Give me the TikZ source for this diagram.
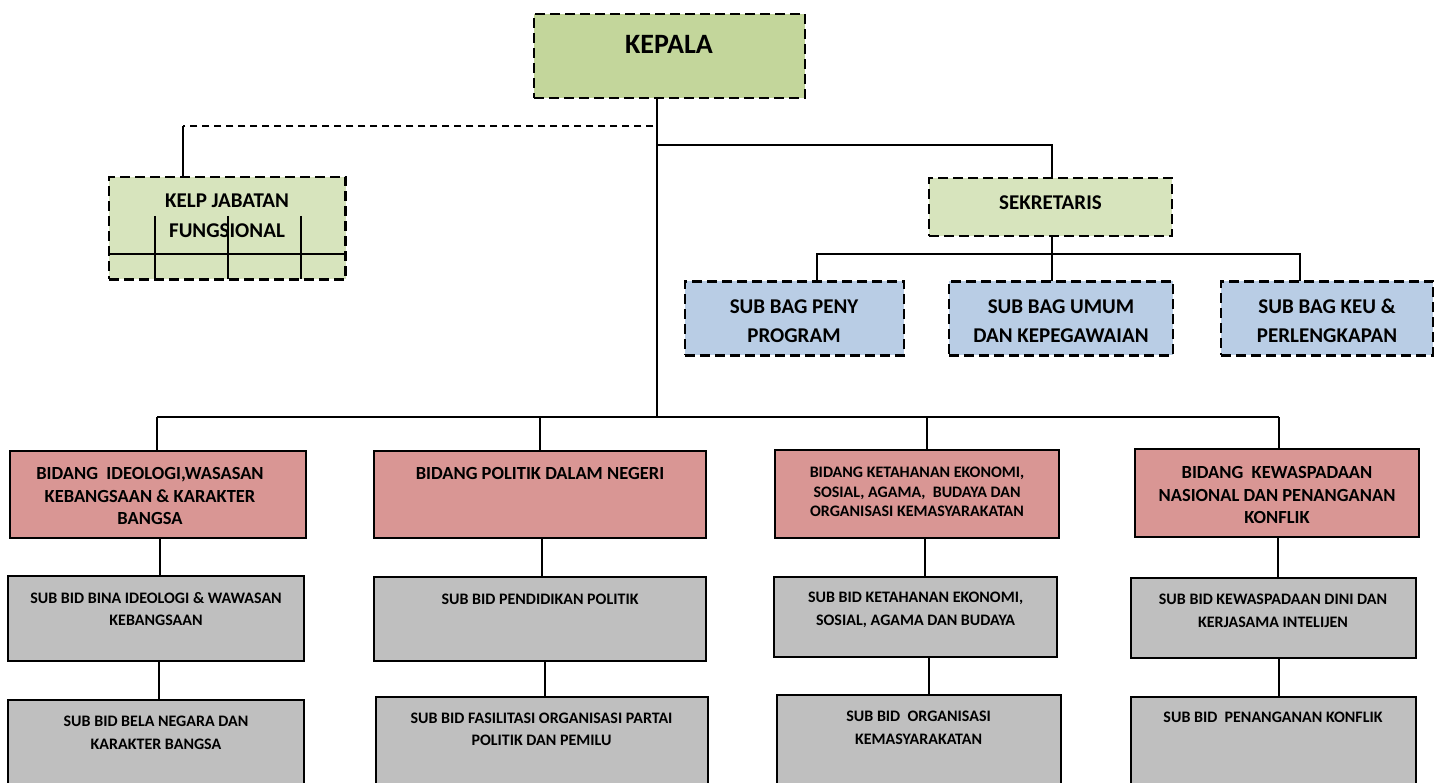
\documentclass[tikz,border=0pt]{standalone}
\usepackage{fontspec}
\setmainfont{Carlito}
\definecolor{kepalaG}{HTML}{C3D69B}
\definecolor{lightG}{HTML}{D7E4BD}
\definecolor{blueB}{HTML}{B9CDE5}
\definecolor{redB}{HTML}{D99694}
\definecolor{greyB}{HTML}{BFBFBF}
\begin{document}
\begin{tikzpicture}[x=1pt,y=-1pt,
  box/.style={draw=black, line width=2.2pt, rectangle, inner sep=0pt, outer sep=0pt},
  dbox/.style={box, dash pattern=on 10pt off 5pt},
  conn/.style={line width=1.8pt},
  dconn/.style={line width=1.8pt, dash pattern=on 7pt off 5pt},
  grid/.style={line width=1.8pt},
  txt/.style={align=center, inner sep=0pt, outer sep=0pt},
  fK/.style={font=\fontsize{28}{34}\selectfont\bfseries},
  fL/.style={font=\fontsize{21}{29.5}\selectfont\bfseries},
  fB/.style={font=\fontsize{18.5}{22.5}\selectfont\bfseries},
  fBs/.style={font=\fontsize{16}{19.5}\selectfont\bfseries},
  fS/.style={font=\fontsize{16}{22.5}\selectfont\bfseries}]
\useasboundingbox (0,0) rectangle (1440,783);
\clip (0,0) rectangle (1440,783);
\fill[white] (0,0) rectangle (1440,783);

% ---------- boxes ----------
\node[dbox, fill=kepalaG, minimum width=271pt, minimum height=84pt] (kepala) at (669.5,56) {};
\node[dbox, fill=lightG, minimum width=236.5pt, minimum height=102.5pt] (kelp) at (227.3,228.2) {};
\node[dbox, fill=lightG, minimum width=243pt, minimum height=58pt] (sek) at (1050.5,207) {};
\node[dbox, fill=blueB, minimum width=219pt, minimum height=74pt] (sb1) at (794.5,318.5) {};
\node[dbox, fill=blueB, minimum width=224pt, minimum height=74pt] (sb2) at (1061,318.5) {};
\node[dbox, fill=blueB, minimum width=212pt, minimum height=74pt] (sb3) at (1327,318.5) {};

\node[box, fill=redB, minimum width=296pt, minimum height=87pt] (b1) at (158,494.5) {};
\node[box, fill=redB, minimum width=332pt, minimum height=87pt] (b2) at (540,494.5) {};
\node[box, fill=redB, minimum width=284pt, minimum height=88pt] (b3) at (917,494) {};
\node[box, fill=redB, minimum width=284pt, minimum height=88pt] (b4) at (1277,493) {};

\node[box, fill=greyB, minimum width=296pt, minimum height=85pt] (s1) at (156,618.5) {};
\node[box, fill=greyB, minimum width=332pt, minimum height=84pt] (s2) at (540,619) {};
\node[box, fill=greyB, minimum width=283pt, minimum height=80pt] (s3) at (915.5,617) {};
\node[box, fill=greyB, minimum width=285pt, minimum height=80pt] (s4) at (1273.5,618) {};

\node[box, fill=greyB, minimum width=296pt, minimum height=100pt] (t1) at (156,750) {};
\node[box, fill=greyB, minimum width=331.5pt, minimum height=103pt] (t2) at (542,748.5) {};
\node[box, fill=greyB, minimum width=284pt, minimum height=105pt] (t3) at (919,747.5) {};
\node[box, fill=greyB, minimum width=285pt, minimum height=103pt] (t4) at (1273.5,748.5) {};

% ---------- texts ----------
\node[txt, fK] (kepalaT) at (669,44) {KEPALA};
\node[txt, fL] (kelpT) at (227,216) {KELP JABATAN\\FUNGSIONAL};
\node[txt, fL] (sekT) at (1050.5,203) {SEKRETARIS};
\node[txt, fL] (sb1T) at (794,321) {SUB BAG PENY\\PROGRAM};
\node[txt, fL] (sb2T) at (1061,321) {SUB BAG UMUM\\DAN KEPEGAWAIAN};
\node[txt, fL] (sb3T) at (1327,321) {SUB BAG KEU \&\\PERLENGKAPAN};

\node[txt, fB] (b1T) at (150,496) {BIDANG\ \ IDEOLOGI,WASASAN\\KEBANGSAAN \& KARAKTER\\BANGSA};
\node[txt, fB] (b2T) at (540,473.5) {BIDANG POLITIK DALAM NEGERI};
\node[txt, fBs] (b3T) at (917,492) {BIDANG KETAHANAN EKONOMI,\\SOSIAL, AGAMA,\ \ BUDAYA DAN\\ORGANISASI KEMASYARAKATAN};
\node[txt, fB] (b4T) at (1277,495) {BIDANG\ \ KEWASPADAAN\\NASIONAL DAN PENANGANAN\\KONFLIK};

\node[txt, fS] (s1T) at (156,609) {SUB BID BINA IDEOLOGI \& WAWASAN\\KEBANGSAAN};
\node[txt, fS] (s2T) at (540,599.3) {SUB BID PENDIDIKAN POLITIK};
\node[txt, fS] (s3T) at (915.6,610) {SUB BID KETAHANAN EKONOMI,\\SOSIAL, AGAMA DAN BUDAYA};
\node[txt, fS] (s4T) at (1273,611) {SUB BID KEWASPADAAN DINI DAN\\KERJASAMA INTELIJEN};

\node[txt, fS] (t1T) at (156,733) {SUB BID BELA NEGARA DAN\\KARAKTER BANGSA};
\node[txt, fS] (t2T) at (541.5,729.5) {SUB BID FASILITASI ORGANISASI PARTAI\\POLITIK DAN PEMILU};
\node[txt, fS] (t3T) at (918.6,728) {SUB BID\ \ ORGANISASI\\KEMASYARAKATAN};
\node[txt, fS] (t4T) at (1273,717) {SUB BID\ \ PENANGANAN KONFLIK};

% ---------- inner grid of KELP box ----------
\coordinate (g1) at (155.3,216);
\coordinate (g2) at (228.3,216);
\coordinate (g3) at (300.7,216);
\coordinate (gh) at (0,254.3);
\draw[grid] (kelp.west |- gh) -- (kelp.east |- gh);
\draw[grid] (g1) -- (g1 |- kelp.south);
\draw[grid] (g2) -- (g2 |- kelp.south);
\draw[grid] (g3) -- (g3 |- kelp.south);

% ---------- connectors ----------
\coordinate (trunkTop) at (657.3,98);
\coordinate (busMid) at (657.3,417);
\coordinate (kjoin) at (657.3,126);
\coordinate (kcorner) at (182.7,126);
\coordinate (sjoin) at (657.3,145);
\coordinate (busL) at (157,417);
\coordinate (busR) at (1279,417);

\draw[conn] (trunkTop) -- (busMid);
\draw[dconn] ([xshift=-4pt]kjoin) -- (kcorner);
\draw[conn] (kcorner) -- (kcorner |- kelp.north);
\draw[conn] (sjoin) -| ([xshift=1.5pt]sek.north);

% secretary branch
\coordinate (sbus) at (1052,254);
\draw[conn] ([xshift=1.5pt]sek.south) -- (sbus);
\draw[conn] ([xshift=22.5pt]sb1.north) |- (sbus) -| ([xshift=-27pt]sb3.north);
\draw[conn] (sbus) -- (sbus |- sb2.north);

% bottom bus
\draw[conn] (busL) -- (busR);
\draw[conn] (busL) -- (busL |- b1.north);
\draw[conn] (b2.north |- busL) -- (b2.north);
\draw[conn] ([xshift=10pt]b3.north |- busL) -- ([xshift=10pt]b3.north);
\draw[conn] (busR) -- (busR |- b4.north);

% bidang to sub bid
\draw[conn] ([xshift=2pt]b1.south) -- ([xshift=2pt]b1.south |- s1.north);
\draw[conn] ([xshift=3pt]s1.south) -- ([xshift=3pt]s1.south |- t1.north);
\draw[conn] ([xshift=2pt]b2.south) -- ([xshift=2pt]b2.south |- s2.north);
\draw[conn] ([xshift=5pt]s2.south) -- ([xshift=5pt]s2.south |- t2.north);
\draw[conn] ([xshift=8pt]b3.south) -- ([xshift=8pt]b3.south |- s3.north);
\draw[conn] ([xshift=13.5pt]s3.south) -- ([xshift=13.5pt]s3.south |- t3.north);
\draw[conn] ([xshift=1.3pt]b4.south) -- ([xshift=1.3pt]b4.south |- s4.north);
\draw[conn] ([xshift=5.5pt]s4.south) -- ([xshift=5.5pt]s4.south |- t4.north);
\end{tikzpicture}
\end{document}
